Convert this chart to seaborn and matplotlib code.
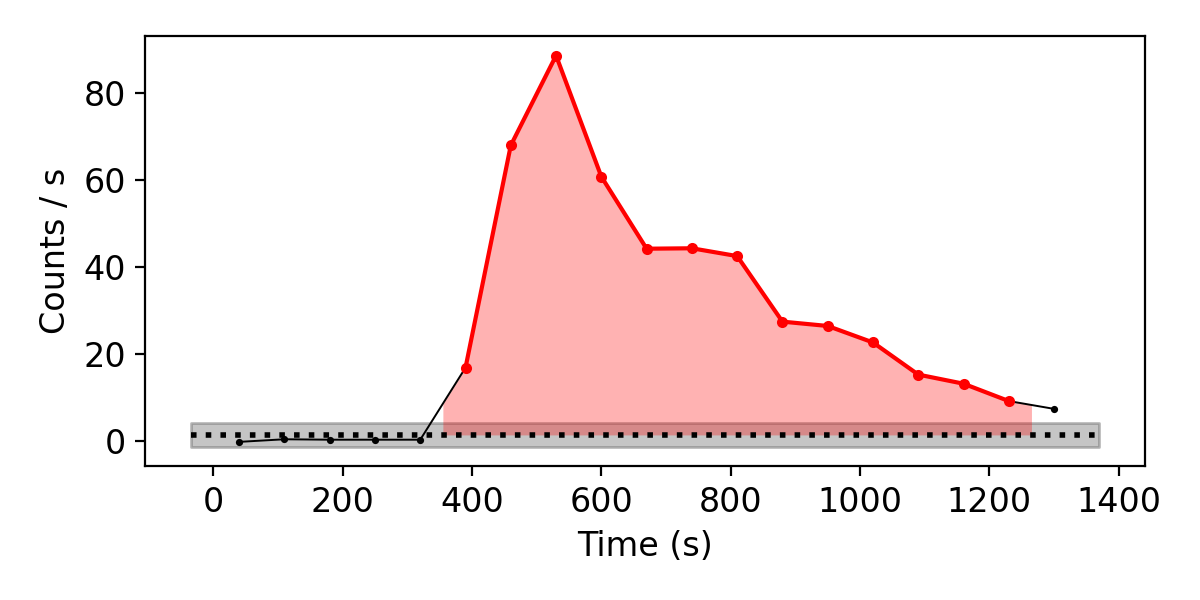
import numpy as np
import pandas as pd
import seaborn as sns
import matplotlib.pyplot as plt

# light curve values
time = [40, 110, 180, 250, 320, 390, 460, 530, 600, 670, 740, 810,
        880, 950, 1020, 1090, 1160, 1230, 1300]
rate = [-0.3, 0.3, 0.2, 0.2, 0.2, 16.8, 68.0, 88.7, 60.8, 44.2, 44.3, 42.5,
        27.4, 26.4, 22.6, 15.2, 13.1, 9.1, 7.3]

# burst interval and background level
burst_start, burst_end = 355, 1265
bkg_level = 1.3
bkg_err = 2.7
bkg_range = [-35, 1370]

df = pd.DataFrame({'time': time, 'rate': rate})
burst = df[(df['time'] >= burst_start) & (df['time'] <= burst_end)]

plt.rcParams['font.size'] = 12

fig, ax = plt.subplots(figsize=(6, 3), dpi=200)

# background band + level
ax.fill_between(bkg_range, bkg_level - bkg_err, bkg_level + bkg_err,
                color='gray', alpha=0.45, edgecolor='dimgray', linewidth=1)
ax.plot(bkg_range, [bkg_level, bkg_level], color='black', linestyle=':', linewidth=2)

# whole light curve
sns.lineplot(data=df, x='time', y='rate', ax=ax, color='black', linewidth=0.7,
             marker='o', markersize=2.6, markeredgewidth=0)

# shaded burst area, edges interpolated onto the curve
fx = np.concatenate([[burst_start], burst['time'].values, [burst_end]])
fy = np.interp(fx, df['time'], df['rate'])
ax.fill_between(fx, bkg_level, fy, color='red', alpha=0.3, linewidth=0)

# burst segment
sns.lineplot(data=burst, x='time', y='rate', ax=ax, color='red', linewidth=1.5,
             marker='o', markersize=4, markeredgewidth=0)

ax.set_xlabel('Time (s)')
ax.set_ylabel('Counts / s')
ax.set_xticks([0, 200, 400, 600, 800, 1000, 1200, 1400])
ax.set_yticks([0, 20, 40, 60, 80])

fig.subplots_adjust(left=0.121, right=0.954, top=0.94, bottom=0.223)
fig.savefig('out.png')
